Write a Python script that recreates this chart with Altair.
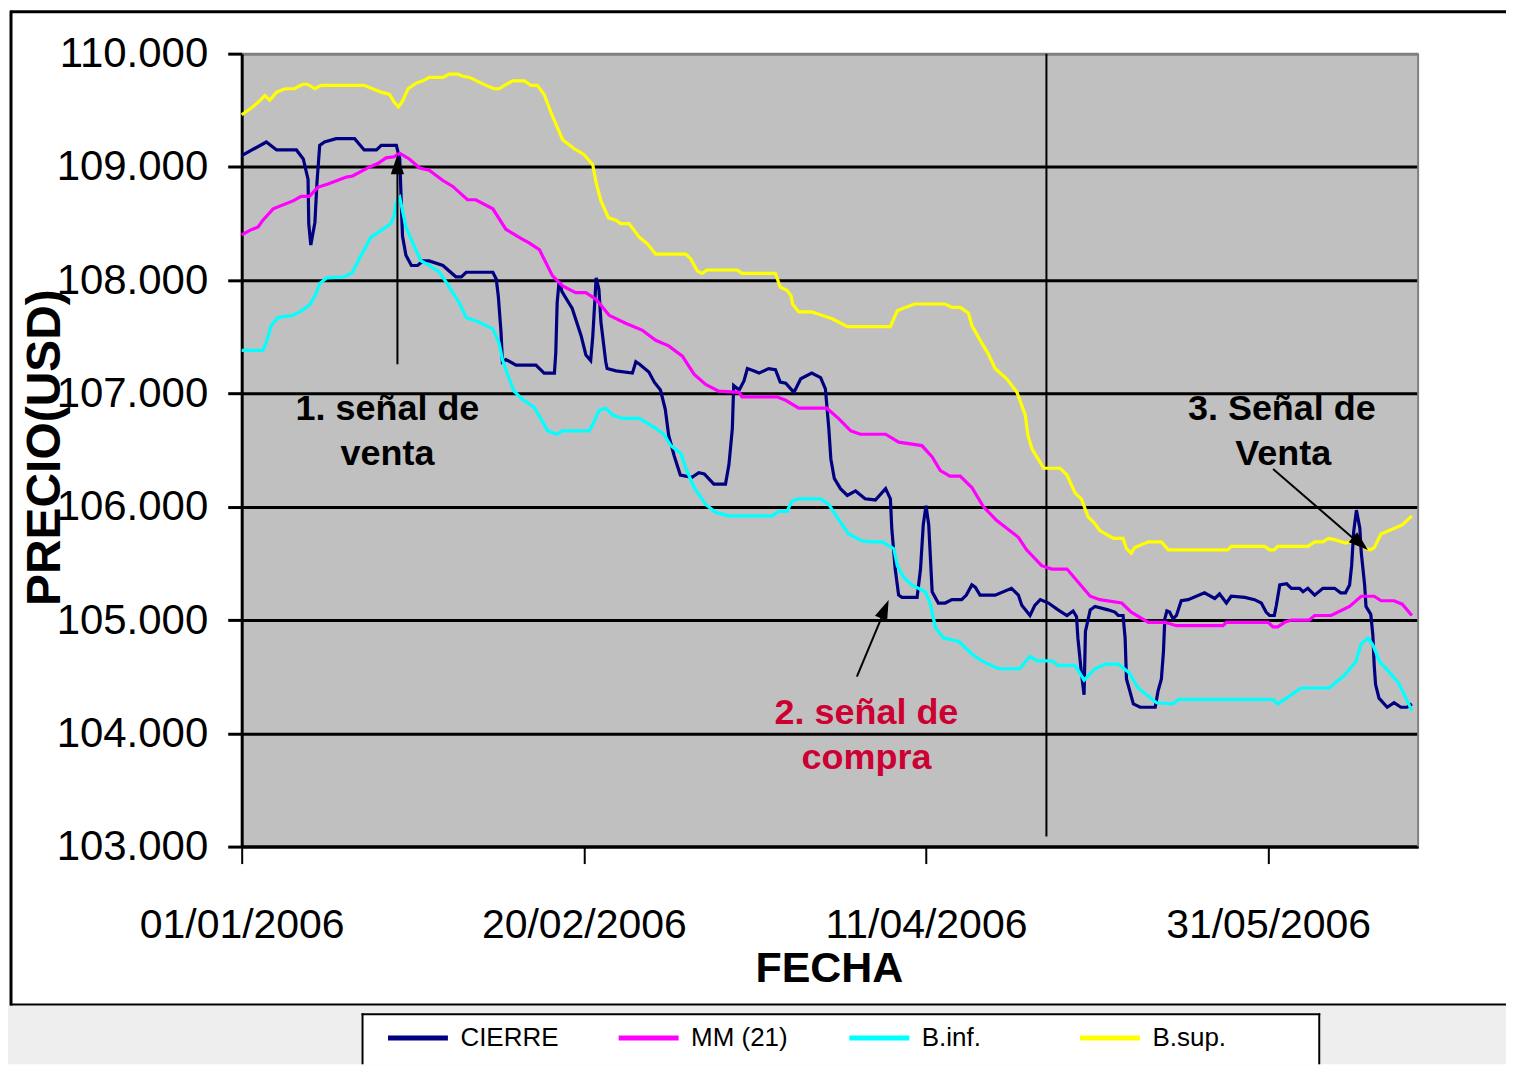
import altair as alt
import pandas as pd

# ---------------- data (days since 01/01/2006, price) ----------------
cierre_days = [0, 3.6, 5.1, 8.0, 9.0, 9.7, 9.8, 10.1, 10.7, 11.0,
               11.4, 12.1, 13.8, 16.5, 17.9, 19.7, 20.4, 22.6, 23.1, 23.3,
               23.5, 24.0, 24.8, 25.7, 26.5, 27.4, 29.4, 31.3, 32.1, 32.8,
               36.7, 37.2, 37.5, 37.9, 38.1, 38.6, 40.1, 43.0, 44.2, 45.7,
               45.9, 46.1, 46.4, 46.8, 48.3, 49.6, 50.3, 51.0, 51.3, 51.8,
               52.2, 52.5, 53.2, 53.4, 54.7, 57.1, 57.6, 58.1, 59.5, 60.3,
               61.2, 61.9, 62.4, 63.2, 64.1, 65.8, 66.8, 67.6, 69.0, 70.7,
               71.2, 71.7, 71.9, 72.7, 73.4, 73.9, 74.8, 75.6, 77.0, 78.0,
               78.7, 79.5, 80.7, 81.7, 83.3, 84.6, 85.3, 85.8, 86.1, 86.6,
               87.5, 88.5, 89.7, 91.1, 92.6, 94.1, 94.8, 95.0, 95.5, 96.0,
               96.5, 98.7, 99.2, 99.6, 100.0, 100.4, 100.9, 101.8, 102.8, 103.8,
               105.2, 105.9, 106.7, 107.2, 107.9, 110.1, 112.5, 113.5, 114.0, 115.2,
               115.9, 116.7, 117.9, 119.3, 120.6, 121.5, 122.0, 122.2, 122.7, 123.1,
               123.3, 124.0, 124.7, 126.6, 127.6, 128.1, 128.8, 129.1, 129.3, 129.8,
               130.3, 131.3, 133.5, 133.9, 134.4, 134.7, 134.9, 135.2, 135.6, 136.1,
               136.6, 137.3, 138.3, 140.7, 142.2, 142.9, 143.9, 144.6, 146.6, 148.0,
               149.0, 149.7, 150.2, 150.9, 151.2, 151.7, 152.7, 153.4, 154.6, 155.1,
               155.8, 156.8, 158.0, 159.7, 160.6, 161.3, 161.9, 162.2, 162.5, 162.9,
               163.4, 163.6, 164.1, 164.3, 165.0, 165.3, 165.5, 165.7, 166.2, 167.4,
               168.4, 169.4, 170.3, 171.0]
cierre_vals = [109.10, 109.22, 109.15, 109.15, 109.07, 108.89, 108.50, 108.31, 108.51, 108.86,
               109.19, 109.22, 109.25, 109.25, 109.15, 109.15, 109.19, 109.19, 109.07, 108.72,
               108.39, 108.22, 108.13, 108.13, 108.17, 108.17, 108.13, 108.03, 108.03, 108.07,
               108.07, 108.01, 107.86, 107.54, 107.28, 107.30, 107.25, 107.25, 107.18, 107.18,
               107.36, 107.80, 108.00, 107.90, 107.75, 107.51, 107.34, 107.29, 107.50, 108.02,
               107.92, 107.63, 107.28, 107.22, 107.20, 107.18, 107.28, 107.26, 107.19, 107.10,
               107.03, 106.86, 106.63, 106.45, 106.28, 106.26, 106.30, 106.29, 106.20, 106.20,
               106.37, 106.69, 107.07, 107.03, 107.11, 107.22, 107.20, 107.18, 107.22, 107.21,
               107.10, 107.09, 107.01, 107.13, 107.18, 107.14, 107.04, 106.69, 106.42, 106.25,
               106.16, 106.10, 106.14, 106.07, 106.06, 106.16, 106.07, 105.81, 105.45, 105.22,
               105.20, 105.20, 105.45, 105.84, 106.01, 105.84, 105.25, 105.15, 105.15, 105.18,
               105.18, 105.22, 105.31, 105.29, 105.22, 105.22, 105.28, 105.22, 105.13, 105.04,
               105.13, 105.18, 105.15, 105.09, 105.04, 105.08, 105.03, 104.84, 104.54, 104.34,
               104.90, 105.09, 105.12, 105.09, 105.07, 105.04, 105.04, 104.84, 104.48, 104.37,
               104.26, 104.23, 104.23, 104.37, 104.48, 104.72, 105.01, 105.08, 105.07, 105.01,
               105.04, 105.17, 105.18, 105.24, 105.19, 105.23, 105.15, 105.21, 105.20, 105.18,
               105.15, 105.07, 105.04, 105.04, 105.13, 105.31, 105.32, 105.28, 105.28, 105.25,
               105.28, 105.22, 105.28, 105.28, 105.24, 105.24, 105.31, 105.48, 105.78, 105.97,
               105.81, 105.60, 105.31, 105.12, 105.05, 104.87, 104.60, 104.43, 104.31, 104.23,
               104.27, 104.23, 104.23, 104.26]

mm_days = [0, 1.2, 2.4, 3.1, 4.6, 7.5, 8.7, 9.9, 11.1, 12.6,
           15.3, 16.2, 18.7, 19.9, 21.1, 22.3, 23.1, 24.5, 26.0, 27.4,
           29.4, 30.8, 33.0, 34.2, 36.7, 38.6, 40.8, 42.0, 43.5, 45.4,
           46.9, 48.8, 50.3, 51.8, 53.7, 56.1, 58.5, 60.5, 62.4, 64.4,
           66.1, 67.8, 69.7, 72.7, 73.1, 78.2, 79.5, 81.4, 85.5, 87.2,
           89.0, 90.4, 94.1, 96.0, 99.4, 100.9, 102.1, 103.5, 105.0, 106.7,
           108.4, 110.3, 113.5, 114.7, 116.9, 118.4, 120.6, 124.0, 125.4, 128.6,
           130.0, 132.5, 134.9, 136.6, 143.4, 143.9, 150.0, 150.7, 151.4, 152.4,
           153.4, 156.0, 156.8, 159.2, 161.9, 163.6, 165.5, 166.5, 168.4, 169.6,
           171.0]
mm_vals = [108.40, 108.44, 108.47, 108.53, 108.63, 108.70, 108.74, 108.74, 108.82, 108.85,
           108.91, 108.92, 109.00, 109.03, 109.08, 109.09, 109.12, 109.07, 108.99, 108.97,
           108.88, 108.83, 108.71, 108.71, 108.63, 108.45, 108.37, 108.33, 108.27, 108.04,
           107.95, 107.89, 107.89, 107.83, 107.69, 107.62, 107.56, 107.47, 107.42, 107.33,
           107.17, 107.08, 107.02, 107.01, 106.97, 106.97, 106.94, 106.87, 106.87, 106.78,
           106.67, 106.64, 106.64, 106.57, 106.54, 106.44, 106.32, 106.27, 106.27, 106.17,
           106.00, 105.88, 105.73, 105.62, 105.48, 105.45, 105.45, 105.21, 105.18, 105.15,
           105.07, 104.98, 104.98, 104.95, 104.95, 104.98, 104.98, 104.94, 104.94, 104.98,
           105.00, 105.00, 105.04, 105.04, 105.12, 105.21, 105.21, 105.17, 105.17, 105.14,
           105.04]

binf_days = [0, 3.1, 3.6, 4.3, 5.3, 7.5, 8.7, 9.9, 10.7, 11.4,
             12.4, 15.0, 16.2, 17.0, 17.9, 18.9, 20.4, 21.8, 22.3, 22.6,
             23.1, 24.0, 25.0, 26.2, 27.4, 28.9, 29.9, 31.8, 32.8, 34.7,
             36.7, 37.6, 38.1, 39.1, 39.8, 41.0, 42.7, 43.7, 44.7, 46.1,
             46.9, 50.8, 51.5, 52.2, 53.2, 54.2, 55.6, 58.1, 60.3, 61.7,
             62.7, 64.2, 64.9, 66.1, 67.8, 69.3, 71.2, 77.5, 78.5, 79.7,
             80.4, 81.4, 84.6, 85.8, 87.2, 88.7, 90.6, 91.9, 93.6, 95.3,
             95.8, 96.7, 97.9, 99.9, 100.6, 101.4, 102.6, 104.8, 106.7, 108.4,
             110.6, 113.7, 115.2, 116.2, 118.4, 119.3, 121.8, 123.1, 124.7, 126.2,
             128.1, 129.6, 131.0, 133.7, 136.1, 136.9, 150.7, 151.4, 152.9, 154.8,
             158.9, 161.1, 162.8, 163.6, 164.6, 165.3, 166.3, 167.7, 169.0, 169.9,
             171.0]
binf_vals = [107.38, 107.38, 107.45, 107.60, 107.67, 107.69, 107.73, 107.78, 107.86, 107.97,
             108.02, 108.03, 108.07, 108.17, 108.27, 108.38, 108.44, 108.50, 108.57, 108.69,
             108.73, 108.47, 108.33, 108.17, 108.13, 108.07, 107.98, 107.80, 107.67, 107.63,
             107.57, 107.45, 107.30, 107.13, 107.02, 106.95, 106.88, 106.78, 106.67, 106.64,
             106.67, 106.67, 106.75, 106.85, 106.87, 106.81, 106.78, 106.78, 106.70, 106.64,
             106.54, 106.47, 106.34, 106.17, 106.02, 105.95, 105.92, 105.92, 105.96, 105.96,
             106.05, 106.07, 106.07, 106.02, 105.89, 105.76, 105.70, 105.69, 105.69, 105.63,
             105.48, 105.38, 105.31, 105.25, 105.15, 104.93, 104.84, 104.81, 104.70, 104.63,
             104.57, 104.57, 104.68, 104.64, 104.64, 104.60, 104.60, 104.47, 104.57, 104.61,
             104.61, 104.54, 104.40, 104.27, 104.26, 104.30, 104.30, 104.26, 104.32, 104.40,
             104.40, 104.51, 104.63, 104.79, 104.84, 104.78, 104.63, 104.54, 104.45, 104.34,
             104.20]

bsup_days = [0, 1.4, 2.4, 3.4, 4.1, 5.1, 6.3, 7.7, 8.9, 9.6,
             10.7, 11.6, 17.9, 19.1, 20.4, 21.6, 22.3, 22.9, 23.5, 24.3,
             25.5, 26.5, 27.4, 29.4, 30.3, 31.6, 32.3, 33.3, 35.7, 36.9,
             37.6, 38.4, 39.6, 41.3, 42.3, 43.2, 44.2, 45.4, 46.9, 48.6,
             50.0, 51.3, 51.8, 52.5, 53.6, 54.7, 55.4, 56.6, 58.1, 59.3,
             60.5, 64.9, 65.6, 66.6, 67.3, 68.0, 72.4, 73.1, 78.0, 78.7,
             79.7, 80.3, 80.5, 81.4, 83.3, 84.8, 86.3, 88.5, 94.8, 95.8,
             97.0, 98.3, 102.8, 103.8, 105.0, 106.2, 106.7, 108.2, 109.1, 110.1,
             111.8, 113.3, 114.5, 114.9, 115.5, 116.4, 117.2, 119.6, 120.6, 121.8,
             122.7, 123.7, 124.7, 125.4, 127.4, 128.8, 129.3, 130.0, 130.5, 132.5,
             134.4, 135.4, 144.1, 144.6, 149.5, 150.2, 150.9, 151.4, 155.8, 156.8,
             158.0, 158.8, 159.7, 161.3, 162.8, 163.5, 164.3, 165.0, 165.5, 166.5,
             167.7, 169.6, 171.0]
bsup_vals = [109.46, 109.52, 109.57, 109.63, 109.59, 109.66, 109.69, 109.69, 109.73, 109.73,
             109.69, 109.72, 109.72, 109.69, 109.66, 109.64, 109.57, 109.53, 109.58, 109.69,
             109.74, 109.76, 109.79, 109.79, 109.82, 109.82, 109.80, 109.79, 109.72, 109.69,
             109.69, 109.72, 109.76, 109.76, 109.72, 109.72, 109.64, 109.45, 109.24, 109.16,
             109.11, 109.02, 108.86, 108.70, 108.55, 108.53, 108.50, 108.50, 108.38, 108.32,
             108.23, 108.23, 108.19, 108.08, 108.06, 108.09, 108.09, 108.06, 108.06, 107.94,
             107.91, 107.86, 107.79, 107.72, 107.72, 107.69, 107.66, 107.59, 107.59, 107.73,
             107.76, 107.79, 107.79, 107.76, 107.76, 107.71, 107.60, 107.44, 107.35, 107.22,
             107.13, 107.01, 106.81, 106.63, 106.51, 106.42, 106.34, 106.34, 106.28, 106.12,
             106.07, 105.91, 105.85, 105.79, 105.72, 105.72, 105.63, 105.59, 105.64, 105.69,
             105.69, 105.62, 105.62, 105.65, 105.65, 105.62, 105.62, 105.65, 105.65, 105.69,
             105.69, 105.72, 105.71, 105.68, 105.70, 105.67, 105.63, 105.62, 105.64, 105.76,
             105.79, 105.84, 105.92]

series_names = ["CIERRE", "MM (21)", "B.inf.", "B.sup."]
series_colors = ["#000080", "#FF00FF", "#00FFFF", "#FFFF00"]

y_ticks = [103, 104, 105, 106, 107, 108, 109, 110]
x_tick_dates = [(2006, 1, 1), (2006, 2, 20), (2006, 4, 11), (2006, 5, 31)]

# annotations
ann_text = ["1. señal de", "venta", "2. señal de", "compra", "3. Señal de", "Venta"]
ann_day = [21.3, 21.3, 91.3, 91.3, 152.0, 152.2]
ann_val = [106.765, 106.368, 104.085, 103.688, 106.765, 106.368]
ann_color = ["black", "black", "#CC0033", "#CC0033", "black", "black"]

arrow_from_day = [22.76, 89.9, 150.72]
arrow_from_val = [107.258, 104.50, 106.333]
arrow_to_day = [22.76, 94.25, 163.9]
arrow_to_val = [109.057, 105.13, 105.645]
head_day = [22.76, 93.87, 163.25]
head_val = [109.004, 105.080, 105.687]
head_angle = [0, 22.6, 130.4]

marker_day = [117.6]
marker_from = [103.09]
marker_to = [110.0]

# ---------------- helpers ----------------
BASE = pd.Timestamp("2006-01-01")


def to_iso(d):
    return (BASE + pd.Timedelta(days=float(d))).strftime("%Y-%m-%dT%H:%M:%SZ")


rows = []
for name, days, vals in [("CIERRE", cierre_days, cierre_vals),
                         ("MM (21)", mm_days, mm_vals),
                         ("B.inf.", binf_days, binf_vals),
                         ("B.sup.", bsup_days, bsup_vals)]:
    for i, (d, v) in enumerate(zip(days, vals)):
        rows.append({"serie": name, "fecha": to_iso(d), "precio": v, "idx": i})
df = pd.DataFrame(rows)

ann_df = pd.DataFrame({"fecha": [to_iso(d) for d in ann_day], "precio": ann_val,
                       "txt": ann_text, "col": ann_color})
arrow_df = pd.DataFrame({"f1": [to_iso(d) for d in arrow_from_day], "p1": arrow_from_val,
                         "f2": [to_iso(d) for d in arrow_to_day], "p2": arrow_to_val})
head_df = pd.DataFrame({"fecha": [to_iso(d) for d in head_day], "precio": head_val,
                        "ang": head_angle})
marker_df = pd.DataFrame({"fecha": [to_iso(d) for d in marker_day],
                          "p1": marker_from, "p2": marker_to})

W, H = 1178, 794          # plot area
OX, OY = 242, 51          # plot origin on page
FONT = "Liberation Sans, Arial, Helvetica"

one = pd.DataFrame({"k": [0]})


def prect(x1, y1, x2, y2, **kw):
    return alt.Chart(one).mark_rect(**kw).encode(
        x=alt.value(x1 - OX), x2=alt.value(x2 - OX),
        y=alt.value(y1 - OY), y2=alt.value(y2 - OY))


def prule(x1, y1, x2, y2, color, w):
    return alt.Chart(one).mark_rule(color=color, strokeWidth=w).encode(
        x=alt.value(x1 - OX), x2=alt.value(x2 - OX),
        y=alt.value(y1 - OY), y2=alt.value(y2 - OY))


x_scale = alt.Scale(type="utc", domain=[alt.DateTime(year=2006, month=1, date=1, utc=True),
                                        alt.DateTime(year=2006, month=6, date=21, hours=22, utc=True)])
y_scale = alt.Scale(domain=[103, 110], nice=False, zero=False)

x_axis = alt.Axis(values=[alt.DateTime(year=a, month=b, date=c, utc=True) for a, b, c in x_tick_dates],
                  labelExpr="utcFormat(datum.value, '%d/%m/%Y')",
                  labelFont=FONT, labelFontSize=41, labelColor="black", labelLimit=500,
                  labelBaseline="alphabetic", labelPadding=74, labelFlush=False, labelOverlap=False,
                  tickColor="black", tickWidth=2, tickSize=17,
                  domainColor="black", domainWidth=3, grid=False,
                  title="FECHA", titleFont=FONT, titleFontSize=43, titleFontWeight="bold",
                  titleColor="black", titleX=588, titleY=135, titleBaseline="alphabetic",
                  titleAlign="center")
y_axis = alt.Axis(values=y_ticks, format=".3f",
                  labelFont=FONT, labelFontSize=42, labelColor="black", labelPadding=20,
                  tickColor="black", tickWidth=3, tickSize=14,
                  domainColor="black", domainWidth=3,
                  grid=True, gridWidth=3,
                  gridColor={"condition": {"test": "datum.value === 110", "value": "#808080"},
                             "value": "black"},
                  title="PRECIO(USD)", titleFont=FONT, titleFontSize=48, titleFontWeight="bold",
                  titleColor="black", titleX=-196, titleY=394, titleAngle=270,
                  titleAlign="center", titleBaseline="middle")

# ---------------- layers ----------------
bounds = prect(8, 8, 1508, 1063, fill="white", opacity=0)
strip = prect(8, 1004, 1508, 1063, fill="#EEEEEE")
frame_l = prule(11, 8, 11, 1004, "black", 3)
frame_t = prule(10, 9, 1508, 9, "black", 3)
frame_b = prule(10, 1003, 1508, 1003, "black", 2)
leg_box = prect(362, 1012, 1322, 1063, fill="white")
leg_l = prule(363, 1012, 363, 1063, "black", 2)
leg_t = prule(362, 1013, 1322, 1013, "black", 2)
leg_r = prule(1321, 1012, 1321, 1063, "black", 2)
plot_r = prule(1420, 51, 1420, 845, "#808080", 2)

lines = alt.Chart(df).mark_line(strokeWidth=3.2).encode(
    x=alt.X("fecha:T", scale=x_scale, axis=x_axis),
    y=alt.Y("precio:Q", scale=y_scale, axis=y_axis),
    color=alt.Color("serie:N",
                    scale=alt.Scale(domain=series_names, range=series_colors),
                    legend=alt.Legend(orient="none", legendX=144, legendY=953,
                                      direction="horizontal", columns=4, columnPadding=49,
                                      gridAlign="all", symbolType="stroke", symbolSize=3600,
                                      symbolStrokeWidth=5, labelFont=FONT, labelFontSize=26,
                                      labelColor="black", labelOffset=10, title=None,
                                      padding=0, labelLimit=300)),
    order=alt.Order("idx:Q"),
)

marker = alt.Chart(marker_df).mark_rule(color="black", strokeWidth=2).encode(
    x="fecha:T", y="p1:Q", y2="p2:Q")

arrows = alt.Chart(arrow_df).mark_rule(color="black", strokeWidth=2).encode(
    x="f1:T", y="p1:Q", x2="f2:T", y2="p2:Q")

heads = alt.Chart(head_df).mark_point(
    shape="M0,-1L0.55,0.65L-0.55,0.65Z", filled=True, color="black", opacity=1, size=576
).encode(x="fecha:T", y="precio:Q", angle=alt.Angle("ang:Q", scale=None))

texts = alt.Chart(ann_df).mark_text(
    font=FONT, fontSize=36, fontWeight="bold", align="center", baseline="alphabetic"
).encode(x="fecha:T", y="precio:Q", text="txt:N", color=alt.Color("col:N", scale=None))

chart = alt.layer(
    bounds, strip, frame_l, frame_t, frame_b, leg_box, leg_l, leg_t, leg_r,
    marker, lines, plot_r, arrows, heads, texts
).properties(
    width=W, height=H, padding=0, background="white"
).configure_view(
    fill="#C0C0C0", strokeWidth=0
)

chart.save("out.html", embed_options={"renderer": "svg", "actions": False})
